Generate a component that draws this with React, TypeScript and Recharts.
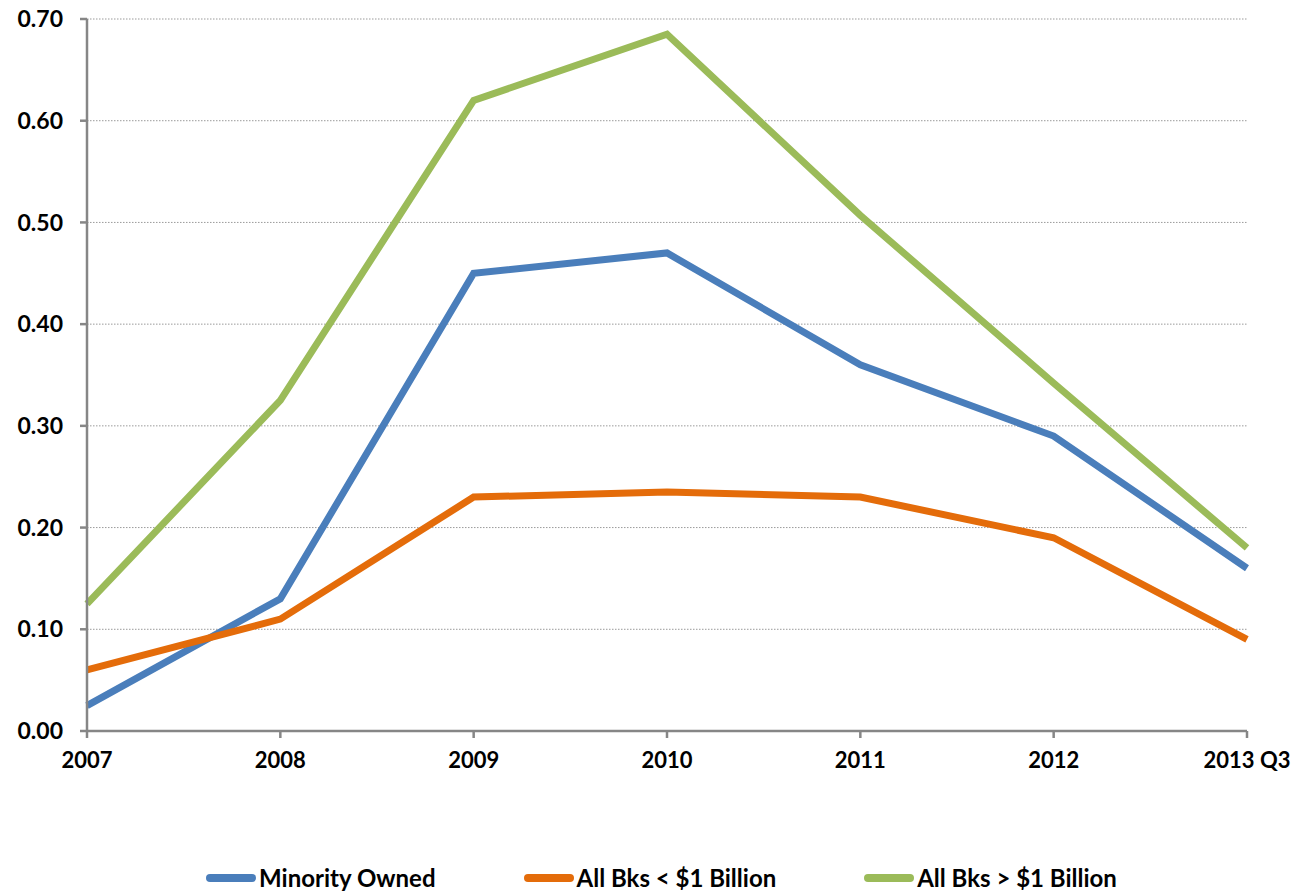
import React from "react";
import { LineChart, Line, XAxis, YAxis, CartesianGrid, Legend } from "recharts";

const categories = ["2007", "2008", "2009", "2010", "2011", "2012", "2013 Q3"];
const minorityOwned = [0.025, 0.13, 0.45, 0.47, 0.36, 0.29, 0.16];
const banksUnder1B = [0.06, 0.11, 0.23, 0.235, 0.23, 0.19, 0.09];
const banksOver1B = [0.125, 0.325, 0.62, 0.685, 0.507, 0.342, 0.18];
const yTicks = [0, 0.1, 0.2, 0.3, 0.4, 0.5, 0.6, 0.7];

const seriesDefs = [
  { key: "minority", name: "Minority Owned", color: "#4A7EBB", values: minorityOwned },
  { key: "under", name: "All Bks < $1 Billion", color: "#E46C0A", values: banksUnder1B },
  { key: "over", name: "All Bks > $1 Billion", color: "#9BBB59", values: banksOver1B },
];

const data = categories.map((c, i) => {
  const row: Record<string, string | number> = { year: c };
  seriesDefs.forEach((s) => {
    row[s.key] = s.values[i];
  });
  return row;
});

const FONT = "Lato, 'DejaVu Sans', sans-serif";
const AXIS_GREY = "#868686";

function LegendContent() {
  return (
    <div
      style={{
        display: "flex",
        justifyContent: "center",
        alignItems: "center",
        fontFamily: FONT,
        fontWeight: 700,
        fontSize: 24,
        color: "#000",
        gap: 88,
        paddingLeft: 76,
        marginTop: 6,
      }}
    >
      {seriesDefs.map((s) => (
        <div key={s.key} style={{ display: "flex", alignItems: "center" }}>
          <svg width={50} height={10} style={{ marginRight: 3 }}>
            <line x1={4} y1={5} x2={46} y2={5} stroke={s.color} strokeWidth={8} strokeLinecap="round" />
          </svg>
          <span>{s.name}</span>
        </div>
      ))}
    </div>
  );
}

export default function App() {
  return (
    <div style={{ position: "absolute", left: 0, top: 0, background: "#fff" }}>
      <LineChart
        width={1295}
        height={892}
        data={data}
        margin={{ top: 19, right: 48, left: 0, bottom: 0 }}
      >
        <CartesianGrid
          horizontal
          vertical={false}
          stroke="#9a9a9a"
          strokeDasharray="1.5 1.5"
          strokeWidth={1}
        />
        <XAxis
          dataKey="year"
          height={126}
          tickSize={7}
          tickMargin={14}
          axisLine={{ stroke: AXIS_GREY, strokeWidth: 2.5 }}
          tickLine={{ stroke: AXIS_GREY, strokeWidth: 2.5 }}
          tick={{ fill: "#000", fontFamily: FONT, fontWeight: 700, fontSize: 22 }}
          interval={0}
        />
        <YAxis
          width={87}
          domain={[0, 0.7]}
          ticks={yTicks}
          tickSize={7}
          tickMargin={17}
          axisLine={{ stroke: AXIS_GREY, strokeWidth: 2.5 }}
          tickLine={{ stroke: AXIS_GREY, strokeWidth: 2.5 }}
          tickFormatter={(v: number) => v.toFixed(2)}
          tick={{ fill: "#000", fontFamily: FONT, fontWeight: 700, fontSize: 23 }}
        />
        <Legend verticalAlign="bottom" height={35} content={() => <LegendContent />} />
        {seriesDefs.map((s) => (
          <Line
            key={s.key}
            type="linear"
            dataKey={s.key}
            name={s.name}
            stroke={s.color}
            strokeWidth={7}
            dot={false}
            activeDot={false}
            isAnimationActive={false}
          />
        ))}
      </LineChart>
    </div>
  );
}
